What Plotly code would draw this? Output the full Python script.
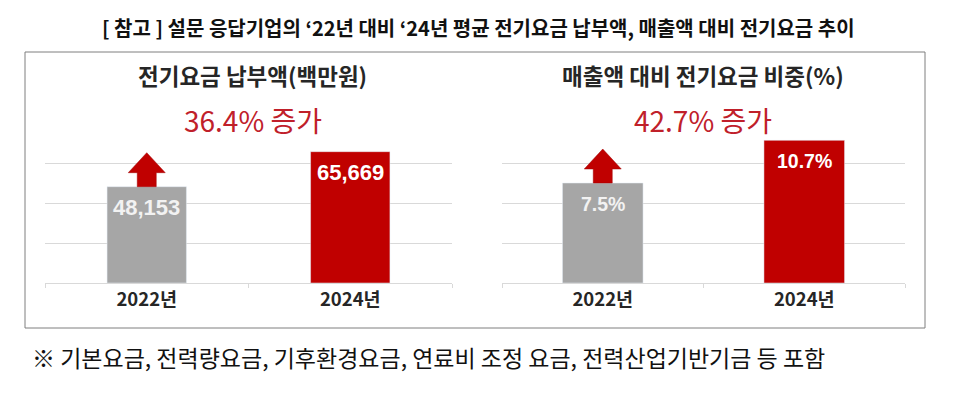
import plotly.graph_objects as go
from plotly.subplots import make_subplots

W, H = 960, 396
OFF = 8  # browser body margin offset

categories = ["2022년", "2024년"]
payment_values = [48153, 65669]          # 전기요금 납부액(백만원)
share_values = [7.5, 10.7]               # 매출액 대비 전기요금 비중(%)
payment_labels = ["48,153", "65,669"]
share_labels = ["7.5%", "10.7%"]
panel_titles = ["전기요금 납부액(백만원)", "매출액 대비 전기요금 비중(%)"]
growth_labels = ["36.4% 증가", "42.7% 증가"]
main_title = "[ 참고 ] 설문 응답기업의 ‘22년 대비 ‘24년 평균 전기요금 납부액, 매출액 대비 전기요금 추이"
footnote = "※ 기본요금, 전력량요금, 기후환경요금, 연료비 조정 요금, 전력산업기반기금 등 포함"

bar_colors = ["#a6a6a6", "#c00000"]
label_colors = ["#f2f2f2", "#ffffff"]
FONT = "Noto Sans CJK KR"

def px_x(p):
    return (p - OFF) / W

def px_y(p):
    return 1 - (p - OFF) / H

fig = make_subplots(rows=1, cols=2)

fig.add_trace(go.Bar(x=categories, y=payment_values, marker_color=bar_colors,
                     width=0.39, showlegend=False, hoverinfo="skip"), row=1, col=1)
fig.add_trace(go.Bar(x=categories, y=share_values, marker_color=bar_colors,
                     width=0.40, showlegend=False, hoverinfo="skip"), row=1, col=2)

plot_top, plot_bottom = 123, 283
ydom = [px_y(plot_bottom), px_y(plot_top)]

common_x = dict(showline=True, linecolor="#d9d9d9", linewidth=1, ticks="outside",
                tickson="boundaries", ticklen=4, tickcolor="#d9d9d9",
                tickfont=dict(family=FONT, size=18.5, color="#262626", weight="bold"),
                showgrid=False, fixedrange=True)
common_y = dict(showgrid=True, gridcolor="#d9d9d9", gridwidth=1, zeroline=False,
                showticklabels=False, ticks="", fixedrange=True)

fig.update_layout(
    width=W, height=H,
    margin=dict(l=0, r=0, t=0, b=0),
    paper_bgcolor="white", plot_bgcolor="white",
    xaxis=dict(domain=[px_x(45), px_x(452)], **common_x),
    xaxis2=dict(domain=[px_x(502), px_x(905)], **common_x),
    yaxis=dict(domain=ydom, range=[0, 80000], dtick=20000, **common_y),
    yaxis2=dict(domain=ydom, range=[0, 12], dtick=3, **common_y),
)

annotations = []
shapes = []

# outer frame
shapes.append(dict(type="rect", xref="paper", yref="paper",
                   x0=px_x(25), x1=px_x(925), y0=px_y(328), y1=px_y(52),
                   line=dict(color="#7f7f7f", width=1), fillcolor="rgba(0,0,0,0)",
                   layer="below"))

# main title
annotations.append(dict(text=main_title, xref="paper", yref="paper",
                        x=px_x(478), y=px_y(28), xanchor="center", yanchor="middle",
                        showarrow=False,
                        font=dict(family=FONT, size=20, color="#111111", weight="bold")))

# footnote
annotations.append(dict(text=footnote, xref="paper", yref="paper",
                        x=px_x(30), y=px_y(357), xanchor="left", yanchor="middle",
                        showarrow=False,
                        font=dict(family=FONT, size=23, color="#111111")))

panel_centers = [253, 703]
for i in range(2):
    annotations.append(dict(text=panel_titles[i], xref="paper", yref="paper",
                            x=px_x(panel_centers[i]), y=px_y(75),
                            xanchor="center", yanchor="middle", showarrow=False,
                            font=dict(family=FONT, size=22.5, color="#262626", weight="bold")))
    annotations.append(dict(text=growth_labels[i], xref="paper", yref="paper",
                            x=px_x(panel_centers[i]), y=px_y(120),
                            xanchor="center", yanchor="middle", showarrow=False,
                            font=dict(family=FONT, size=28, color="#c0202a")))

# value labels inside bars
series = [(payment_values, payment_labels, "x", "y", 22),
          (share_values, share_labels, "x2", "y2", 19.5)]
for vals, labs, xr, yr, fs in series:
    for j, (c, v, lab) in enumerate(zip(categories, vals, labs)):
        annotations.append(dict(text=lab, x=c, y=v, xref=xr, yref=yr,
                                xanchor="center", yanchor="middle", yshift=-21,
                                showarrow=False,
                                font=dict(family="Liberation Sans", size=fs,
                                          color=label_colors[j], weight="bold")))

    # red up arrow above the first (2022) bar
    arrow_path = ("M -18.5 14 L 0 34 L 18.5 14 L 9.5 14 L 9.5 0 "
                  "L -9.5 0 L -9.5 14 Z")
    shapes.append(dict(type="path", xref=xr, yref=yr,
                       xsizemode="pixel", ysizemode="pixel",
                       xanchor=categories[0], yanchor=vals[0],
                       path=arrow_path, fillcolor="#c00000",
                       line=dict(color="#a00000", width=0.5)))

fig.update_layout(annotations=annotations, shapes=shapes)

fig.write_html("out.html")
